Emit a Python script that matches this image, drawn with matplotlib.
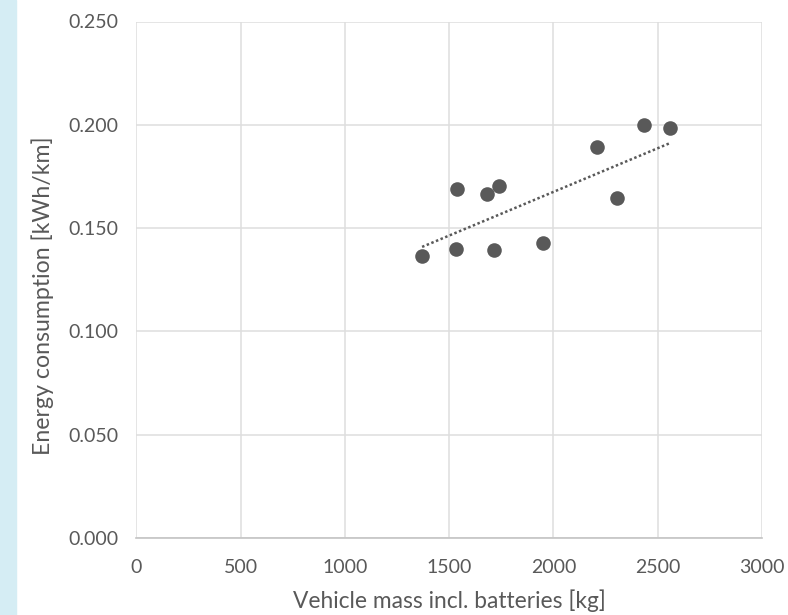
import matplotlib
matplotlib.use("Agg")
import matplotlib.pyplot as plt
import numpy as np

mass_kg = [1370, 1538, 1535, 1682, 1740, 1713, 1951, 2207, 2303, 2434, 2560]
energy_kwh_km = [0.1364, 0.1689, 0.1401, 0.1665, 0.1706, 0.1394, 0.1428, 0.1892, 0.1644, 0.1999, 0.1983]
trend_x = [1370, 2560]
trend_y = [0.1409, 0.1912]
x_ticks = [0, 500, 1000, 1500, 2000, 2500, 3000]
y_ticks = [0.000, 0.050, 0.100, 0.150, 0.200, 0.250]
x_label = "Vehicle mass incl. batteries [kg]"
y_label = "Energy consumption [kWh/km]"

plt.rcParams['font.family'] = ['Lato', 'DejaVu Sans']

txt = "#595959"
W, H = 788, 615
fig = plt.figure(figsize=(W/100, H/100), dpi=100)
fig.patches.append(plt.Rectangle((0, 0), 16/W, 1, transform=fig.transFigure,
                                 color="#d5edf4", zorder=0))
ax = fig.add_axes([136.4/W, 1-538/H, (762-136.4)/W, (538-21.5)/H])

ax.scatter(mass_kg, energy_kwh_km, s=110, color="#595959", zorder=3, linewidths=0)
ax.plot(trend_x, trend_y, linestyle=(0, (1, 1)), color="#595959", linewidth=1.8, zorder=2)

ax.set_xlim(0, 3000)
ax.set_ylim(0, 0.25)
ax.set_xticks(x_ticks)
ax.set_xticklabels([str(v) for v in x_ticks])
ax.set_yticks(y_ticks)
ax.set_yticklabels([f"{v:.3f}" for v in y_ticks])
ax.grid(True, color="#dedede", linewidth=1.1)
ax.set_axisbelow(True)
for s in ["top", "right", "left"]:
    ax.spines[s].set_visible(False)
ax.spines["bottom"].set_color("#c4c4c4")
ax.spines["bottom"].set_linewidth(1.2)
ax.tick_params(length=0, labelsize=14, colors=txt, pad=13)
ax.tick_params(axis='x', pad=15)

fig.text(449/W, 1-601/H, x_label, fontsize=16.4, color=txt, ha="center", va="center")
fig.text(43/W, 1-296/H, y_label, fontsize=16.7, color=txt, ha="center", va="center",
         rotation=90)

fig.savefig("out.png", dpi=100, facecolor="white")
